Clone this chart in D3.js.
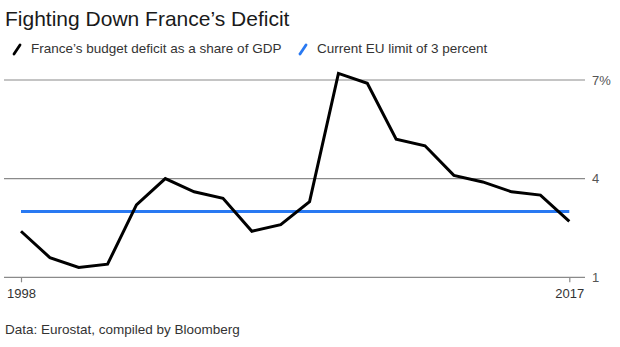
<!DOCTYPE html>
<html>
<head>
<meta charset="utf-8">
<script src="https://cdn.jsdelivr.net/npm/d3@7"></script>
<style>
  html, body { margin: 0; padding: 0; background: #fff; }
  svg { display: block; font-family: "Liberation Sans", Arial, Helvetica, sans-serif; }
</style>
</head>
<body>
<svg id="chart" width="620" height="347"></svg>
<script>
const years = [1998,1999,2000,2001,2002,2003,2004,2005,2006,2007,2008,2009,2010,2011,2012,2013,2014,2015,2016,2017];
const deficit = [2.4,1.6,1.3,1.4,3.2,4.0,3.6,3.4,2.4,2.6,3.3,7.2,6.9,5.2,5.0,4.1,3.9,3.6,3.5,2.7];
const euLimit = [3,3,3,3,3,3,3,3,3,3,3,3,3,3,3,3,3,3,3,3];
const yTicks = [1, 4, 7];
const yTickLabels = ["1", "4", "7%"];
const xTicks = [1998, 2017];
const title = "Fighting Down France\u2019s Deficit";
const legendLabels = ["France\u2019s budget deficit as a share of GDP", "Current EU limit of 3 percent"];
const source = "Data: Eurostat, compiled by Bloomberg";

const svg = d3.select("#chart");
const x = d3.scaleLinear().domain([1998, 2017]).range([21, 569.3]);
const y = d3.scaleLinear().domain([1, 7]).range([277.3, 80]);

// title
svg.append("text").attr("x", 5).attr("y", 26).attr("font-size", 21).attr("fill", "#1a1a1a").text(title);

// legend
const legendColors = ["#000", "#2979f2"];
const legendX = [14, 300];
legendLabels.forEach((lab, i) => {
  const g = svg.append("g").attr("transform", `translate(${legendX[i]},0)`);
  g.append("line").attr("x1", 0).attr("y1", 54).attr("x2", 6).attr("y2", 45)
    .attr("stroke", legendColors[i]).attr("stroke-width", 2.8).attr("stroke-linecap", "round");
  g.append("text").attr("x", 17).attr("y", 53).attr("font-size", 13.5).attr("fill", "#333").text(lab);
});

// grid lines
svg.append("g").selectAll("line").data(yTicks).join("line")
  .attr("x1", 4).attr("x2", 585)
  .attr("y1", d => y(d)).attr("y2", d => y(d))
  .attr("stroke", "#8a8a8a").attr("stroke-width", 1.2);

// y labels
svg.append("g").selectAll("text").data(yTicks).join("text")
  .attr("x", 592).attr("y", d => y(d)).attr("dy", "0.35em")
  .attr("font-size", 13).attr("fill", "#555")
  .text((d, i) => yTickLabels[i]);

// x axis ticks
const xAxis = d3.axisBottom(x).tickValues(xTicks).tickFormat(d3.format("d")).tickSize(5).tickPadding(6);
const gx = svg.append("g").attr("transform", `translate(0,${y(1)})`).call(xAxis);
gx.select(".domain").remove();
gx.selectAll(".tick line").attr("stroke", "#8a8a8a").attr("stroke-width", 1.2);
gx.selectAll(".tick text").attr("font-size", 13).attr("fill", "#333")
  .attr("font-family", "'Liberation Sans', Arial, sans-serif");

// EU limit line
const line = d3.line().x((d, i) => x(years[i])).y(d => y(d));
svg.append("path").datum(euLimit).attr("d", line)
  .attr("fill", "none").attr("stroke", "#2979f2").attr("stroke-width", 3);

// deficit line
svg.append("path").datum(deficit).attr("d", line)
  .attr("fill", "none").attr("stroke", "#000").attr("stroke-width", 3)
  .attr("stroke-linejoin", "miter");

// source
svg.append("text").attr("x", 5).attr("y", 334).attr("font-size", 13.5).attr("fill", "#333").text(source);
</script>
</body>
</html>
